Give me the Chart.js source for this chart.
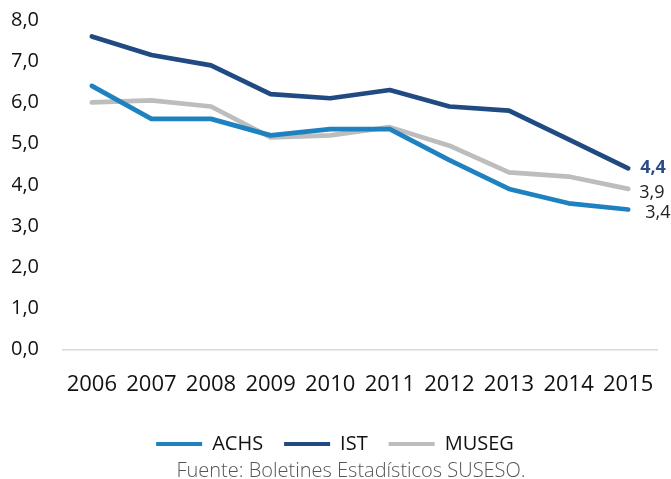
<!DOCTYPE html>
<html>
<head>
<meta charset="utf-8">
<script src="https://cdn.jsdelivr.net/npm/chart.js@4.4.0/dist/chart.umd.min.js"></script>
<style>
  body { margin: 0; background: #fff; }
  #wrap { position: relative; width: 671px; height: 479px; overflow: hidden; }
  #source {
    position: absolute; left: 0; top: 459px; width: 702px; text-align: center;
    font-family: "Open Sans", sans-serif; font-weight: 300; font-size: 20px;
    line-height: 22px; color: #555; white-space: nowrap;
  }
</style>
</head>
<body>
<div id="wrap">
  <canvas id="chart"></canvas>
  <div id="source">Fuente: Boletines Estadísticos SUSESO.</div>
</div>
<script>
// Data
const years = ["2006", "2007", "2008", "2009", "2010", "2011", "2012", "2013", "2014", "2015"];
const achs = [6.4, 5.6, 5.6, 5.2, 5.35, 5.35, 4.6, 3.9, 3.55, 3.4];
const ist = [7.6, 7.15, 6.9, 6.2, 6.1, 6.3, 5.9, 5.8, 5.1, 4.4];
const museg = [6.0, 6.05, 5.9, 5.15, 5.2, 5.4, 4.95, 4.3, 4.2, 3.9];

const yMin = 0, yMax = 8, yStep = 1;

function fmt(v) {
  return v.toFixed(1).replace(".", ",");
}

// Last value label styles, per dataset index
const endLabels = [
  { dx: 17, dy: 3, color: "#222", weight: "400" },
  { dx: 12, dy: 0, color: "#2a4d85", weight: "700" },
  { dx: 11, dy: 4, color: "#222", weight: "400" }
];

const endLabelPlugin = {
  id: "endLabels",
  afterDatasetsDraw(chart) {
    const ctx = chart.ctx;
    ctx.save();
    chart.data.datasets.forEach((ds, i) => {
      const meta = chart.getDatasetMeta(i);
      const pt = meta.data[meta.data.length - 1];
      const st = endLabels[i];
      ctx.font = `${st.weight} 18px "Open Sans", sans-serif`;
      ctx.fillStyle = st.color;
      ctx.textAlign = "left";
      ctx.textBaseline = "middle";
      ctx.fillText(fmt(ds.data[ds.data.length - 1]), pt.x + st.dx, pt.y + st.dy);
    });
    ctx.restore();
  }
};

function lineSet(label, data, color) {
  return {
    label: label,
    data: data,
    borderColor: color,
    backgroundColor: color,
    borderWidth: 4.7,
    pointRadius: 0,
    tension: 0,
    borderCapStyle: "round",
    borderJoinStyle: "round"
  };
}

new Chart(document.getElementById("chart"), {
  type: "line",
  data: {
    labels: years,
    datasets: [
      lineSet("ACHS", achs, "#1f82c0"),
      lineSet("IST", ist, "#204a81"),
      lineSet("MUSEG", museg, "#bdbdbd")
    ]
  },
  options: {
    responsive: true,
    maintainAspectRatio: false,
    animation: false,
    layout: { padding: { top: 20, left: 12, right: 13, bottom: 15 } },
    plugins: {
      tooltip: { enabled: false },
      legend: {
        position: "bottom",
        labels: {
          color: "#111",
          font: { family: "Open Sans", size: 20 },
          boxWidth: 46,
          boxHeight: 4,
          padding: 21,
          generateLabels(chart) {
            return Chart.defaults.plugins.legend.labels.generateLabels(chart).map(l => {
              l.lineWidth = 0;
              return l;
            });
          }
        }
      }
    },
    scales: {
      x: {
        offset: true,
        grid: { display: false },
        border: { display: false },
        ticks: { color: "#111", font: { family: "Open Sans", size: 22 }, padding: 14, maxRotation: 0 },
        afterFit(scale) { scale.height += 1; }
      },
      y: {
        min: yMin,
        max: yMax,
        border: { display: false },
        grid: {
          drawTicks: false,
          lineWidth: 1.5,
          color: c => (c.tick.value === 0 ? "#d9d9d9" : "transparent")
        },
        ticks: {
          stepSize: yStep,
          color: "#111",
          font: { family: "Open Sans", size: 20 },
          padding: 23,
          callback: v => fmt(v)
        },
        afterFit(scale) {
          scale.width = 50;
          scale.paddingTop = 0;
          scale.paddingBottom = 0;
        }
      }
    }
  },
  plugins: [endLabelPlugin]
});
</script>
</body>
</html>
